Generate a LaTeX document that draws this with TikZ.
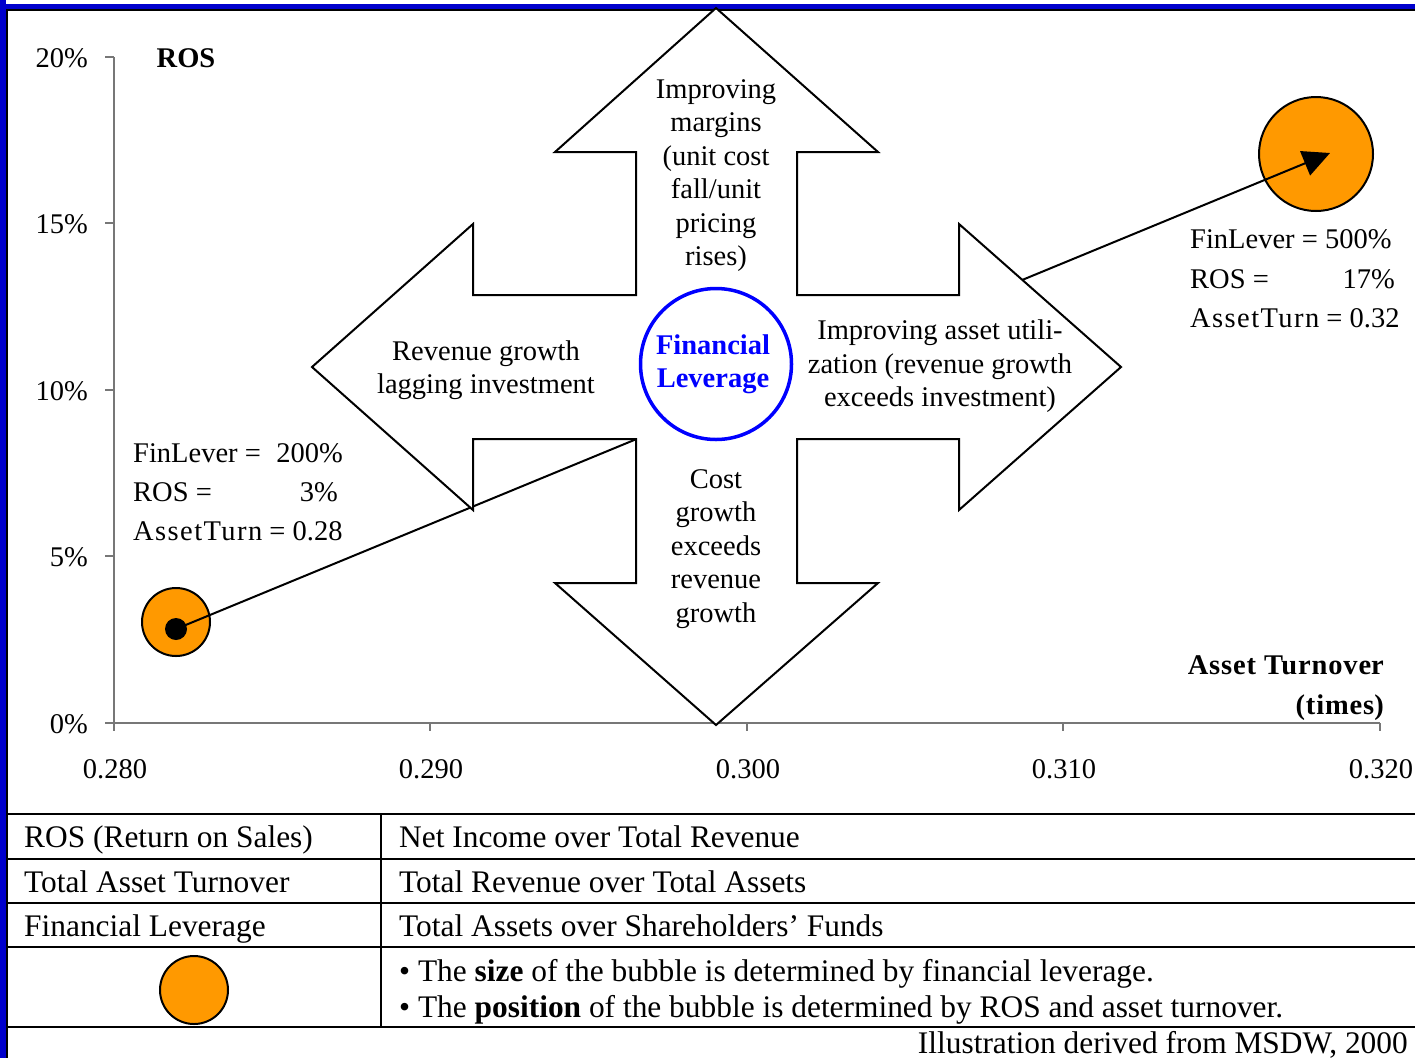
\documentclass[tikz,border=0pt]{standalone}
\usepackage{fontspec}
\setmainfont{Liberation Serif}
\usetikzlibrary{arrows.meta}
\definecolor{bubble}{HTML}{FF9900}
\definecolor{framebl}{HTML}{0000CC}
\definecolor{levblue}{HTML}{0000FF}
\definecolor{axisgray}{HTML}{777777}
\begin{document}
\begin{tikzpicture}[x=1pt,y=-1pt,
  chart/.style={font=\fontsize{28.5}{33.5}\selectfont, inner sep=0pt, align=center},
  lbl/.style={font=\fontsize{28.5}{33.5}\selectfont, inner sep=0pt},
  boldlbl/.style={inner sep=0pt, font=\fontsize{28.5}{33.5}\selectfont\bfseries},
  tbl/.style={font=\fontsize{31.4}{36}\selectfont, inner sep=0pt, anchor=base west},
  axisline/.style={draw=axisgray, line width=1.2pt},
  rule/.style={draw=black, line width=2pt},
  bub/.style={circle, draw=black, line width=2pt, fill=bubble, inner sep=0pt},
  quad/.style={draw=black, fill=white, line width=2pt, line join=miter},
  lev/.style={circle, draw=levblue, fill=white, line width=3.5pt, inner sep=0pt,
    minimum size=151pt},
  link/.style={draw=black, line width=2pt}]

% page and frame
\useasboundingbox (0,0) rectangle (1415,1058);
\fill[white] (0,0) rectangle (1415,1058);
\fill[framebl] (0,4) rectangle (1415,9);
\fill[framebl] (0,0) rectangle (5.5,1058);
\draw[rule] (6.5,10) -- (1415,10);
\draw[rule] (6.5,9) -- (6.5,1058);

% axes
\draw[axisline] (114,57) -- (114,723) -- (1380,723);
\foreach \yy/\tx in {57/20\%,223/15\%,390/10\%,556/5\%,723/0\%}{
  \draw[axisline] (105,\yy) -- (114,\yy);
  \node[lbl, anchor=base east] at (88,\yy+10) {\tx};
}
\foreach \xx/\tx in {114/0.280,430/0.290,747/0.300,1063/0.310,1380/0.320}{
  \draw[axisline] (\xx,723) -- (\xx,731);
  \node[lbl, anchor=base] at (\xx+1,778) {\tx};
}
\node[boldlbl, anchor=base] (rosax) at (186,67) {ROS};
\node[boldlbl, anchor=base east] (atax) at (1384,674) {{\addfontfeature{LetterSpace=3}Asset Turnove}r};
\node[boldlbl, anchor=base east] (atunit) at (1384,714) {{\addfontfeature{LetterSpace=3}(times}) };

% bubbles
\node[bub, minimum size=68pt] (small) at (176,622) {};
\node[circle, fill=black, inner sep=0pt, minimum size=22pt] (dot) at (176,629) {};
\node[bub, minimum size=114pt] (big) at (1316,154) {};
\coordinate (dotc) at (176,629);
\coordinate (tipR) at (1330,153);
\draw[link, -{Triangle[length=27pt,width=26pt]}] (dotc) -- (tipR);

% four-way arrow
\path[quad] (716,8) -- (878,152) -- (797,152) -- (797,295) -- (959,295) -- (959,224)
  -- (1121,367) -- (959,510) -- (959,439) -- (797,439) -- (797,583) -- (878,583)
  -- (716,725) -- (555,583) -- (636,583) -- (636,439) -- (473,439) -- (473,510)
  -- (312,367) -- (473,224) -- (473,295) -- (636,295) -- (636,152) -- (555,152) -- cycle;

\node[chart] (up) at (716,175.5) {Improving\\margins\\(unit cost\\fall/unit\\pricing\\rises)};
\node[chart] (down) at (716,549) {Cost\\growth\\exceeds\\revenue\\growth};
\node[chart] (left) at (486,370) {Revenue growth\\lagging investment};
\node[chart] (right) at (940,366.5) {Improving asset utili-\\zation (revenue growth\\exceeds investment)};

\node[lev] (levc) at (716,364) {};
\node[chart, text=levblue, font=\fontsize{28.5}{33.5}\selectfont\bfseries] (levt) at (713,364) {Financial\\Leverage};

% data labels
\node[lbl, anchor=base west] (fl1) at (133,462) {FinLever =};
\node[lbl, anchor=base east] (fl1v) at (343,462) {200\%};
\node[lbl, anchor=base west] (ros1) at (133,501) {ROS =};
\node[lbl, anchor=base east] (ros1v) at (338,501) {3\%};
\node[lbl, anchor=base west] (at1) at (133,540) {{\addfontfeature{LetterSpace=5}AssetTurn} = 0.28};

\node[lbl, anchor=base west] (fl2) at (1190,248) {FinLever = 500\%};
\node[lbl, anchor=base west] (ros2) at (1190,288) {ROS =};
\node[lbl, anchor=base east] (ros2v) at (1395,288) {17\%};
\node[lbl, anchor=base west] (at2) at (1190,327) {{\addfontfeature{LetterSpace=5}AssetTurn} = 0.32};

% definitions table
\foreach \yy in {814,859,903,947,1027}{\draw[rule] (6.5,\yy) -- (1415,\yy);}
\draw[rule] (381,814) -- (381,1027);
\node[tbl] (t1a) at (24,847) {ROS (Return on Sales)};
\node[tbl] (t1b) at (399,847) {Net Income over Total Revenue};
\node[tbl] (t2a) at (24,892) {Total Asset Turnover};
\node[tbl] (t2b) at (399,892) {Total Revenue over Total Assets};
\node[tbl] (t3a) at (24,936) {Financial Leverage};
\node[tbl] (t3b) at (399,936) {Total Assets over Shareholders’ Funds};
\node[bub, minimum size=68pt] (legbub) at (194,990) {};
\node[tbl] (t4a) at (399,981) {• The \textbf{size} of the bubble is determined by financial leverage.};
\node[tbl] (t4b) at (399,1017) {• The \textbf{position} of the bubble is determined by ROS and asset turnover.};
\node[tbl, anchor=base east] (src) at (1408,1053) {Illustration derived from MSDW, 2000};
\end{tikzpicture}
\end{document}
